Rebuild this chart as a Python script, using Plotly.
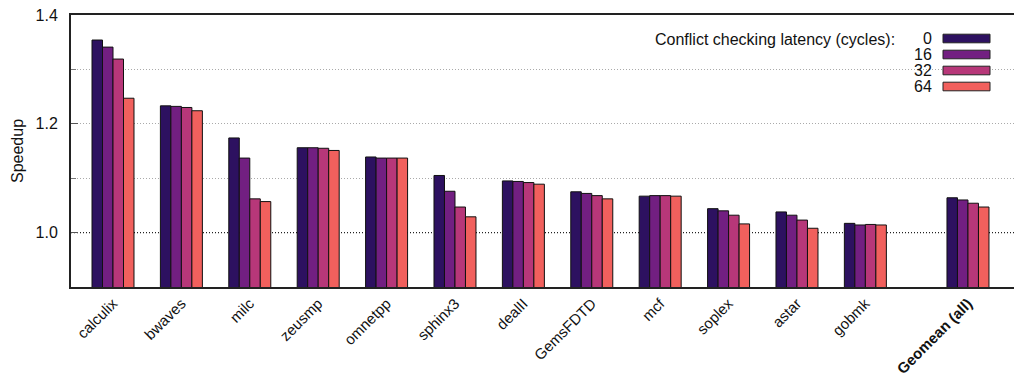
import plotly.graph_objects as go

# Benchmarks and speedup per conflict-checking latency
benchmarks = ["calculix", "bwaves", "milc", "zeusmp", "omnetpp", "sphinx3", "dealII",
              "GemsFDTD", "mcf", "soplex", "astar", "gobmk", "Geomean (all)"]
latencies = ["0", "16", "32", "64"]

speedup_0 = [1.354, 1.233, 1.174, 1.156, 1.139, 1.105, 1.095, 1.075, 1.067, 1.044, 1.038, 1.017, 1.064]
speedup_16 = [1.341, 1.232, 1.137, 1.156, 1.137, 1.076, 1.094, 1.072, 1.068, 1.040, 1.032, 1.014, 1.060]
speedup_32 = [1.319, 1.230, 1.062, 1.155, 1.137, 1.047, 1.092, 1.068, 1.068, 1.032, 1.023, 1.015, 1.054]
speedup_64 = [1.247, 1.224, 1.057, 1.151, 1.137, 1.029, 1.089, 1.062, 1.067, 1.016, 1.008, 1.014, 1.047]

series = [speedup_0, speedup_16, speedup_32, speedup_64]
colors = ["#2d1160", "#721f81", "#b73779", "#f1605d"]

# x positions: individual benchmarks, then an extra gap before the geomean group
positions = [float(i) for i in range(len(benchmarks) - 1)] + [len(benchmarks) - 1 + 0.5]
ticktext = benchmarks[:-1] + ["<b>" + benchmarks[-1] + "</b>"]

FONT = "Liberation Sans, Arial, Helvetica, sans-serif"
FS = 16
GRID_DASH = "1px,2px"

fig = go.Figure()
for lat, vals, col in zip(latencies, series, colors):
    fig.add_trace(go.Bar(
        x=positions, y=vals, name=lat,
        marker=dict(color=col, line=dict(color="#111111", width=1)),
        showlegend=False,
    ))

# key: title text, latency labels right-aligned, colour swatches
fig.add_shape(type="rect", xref="paper", yref="paper",
              x0=(902 - 71) / 943, x1=(1000 - 71) / 943,
              y0=(287 - 78) / 272, y1=(287 - 63) / 272,
              fillcolor="white", line=dict(width=0), layer="between")
fig.add_annotation(text="Conflict checking latency (cycles):", xref="paper", yref="paper",
                   x=(897 - 71) / 943, y=(287 - 39) / 272, xanchor="right", yanchor="middle",
                   showarrow=False, font=dict(family=FONT, size=FS, color="#111111"))
for k, (lat, col) in enumerate(zip(latencies, colors)):
    yc = 38.5 + 16 * k
    fig.add_annotation(text=lat, xref="paper", yref="paper",
                       x=(934 - 71) / 943, y=(287 - yc) / 272, xanchor="right", yanchor="middle",
                       showarrow=False, font=dict(family=FONT, size=FS, color="#111111"))
    fig.add_shape(type="rect", xref="paper", yref="paper",
                  x0=(943 - 71) / 943, x1=(990 - 71) / 943,
                  y0=(287 - yc - 4.3) / 272, y1=(287 - yc + 4.3) / 272,
                  fillcolor=col, line=dict(color="#222222", width=1), layer="above")

# baseline reference at speedup 1.0
fig.add_shape(type="line", xref="paper", yref="y", x0=0, x1=1, y0=1.0, y1=1.0,
              line=dict(color="#222222", width=1.3, dash=GRID_DASH), layer="between")

fig.update_layout(
    width=1014, height=376,
    margin=dict(l=71, r=0, t=15, b=89),
    plot_bgcolor="white", paper_bgcolor="white",
    barmode="group", bargap=0.386, bargroupgap=0,
    font=dict(family=FONT, size=FS, color="#111111"),
    xaxis=dict(
        range=[-0.614, 13.173], automargin=False,
        tickvals=positions, ticktext=ticktext, tickangle=-45,
        ticks="", showgrid=False, zeroline=False,
        showline=True, linecolor="#222222", linewidth=2, mirror=True,
        tickfont=dict(family=FONT, size=15, color="#111111"),
    ),
    yaxis=dict(
        range=[0.9, 1.4], automargin=False,
        tickvals=[1.0, 1.2, 1.4], ticktext=["1.0", "1.2", "1.4"],
        ticks="inside", ticklen=7, tickcolor="#555555", tickwidth=1,
        ticklabelstandoff=8,
        showgrid=False,
        zeroline=False, showline=True, linecolor="#222222", linewidth=2,
        title=dict(text="Speedup", standoff=8, font=dict(family=FONT, size=FS)),
        tickfont=dict(family=FONT, size=FS, color="#111111"),
        minor=dict(tickvals=[1.1, 1.2, 1.3], ticks="inside", ticklen=5, tickcolor="#777777",
                   showgrid=True, gridcolor="#aaaaaa", griddash=GRID_DASH, gridwidth=1),
    ),
)

fig.write_html("out.html")
